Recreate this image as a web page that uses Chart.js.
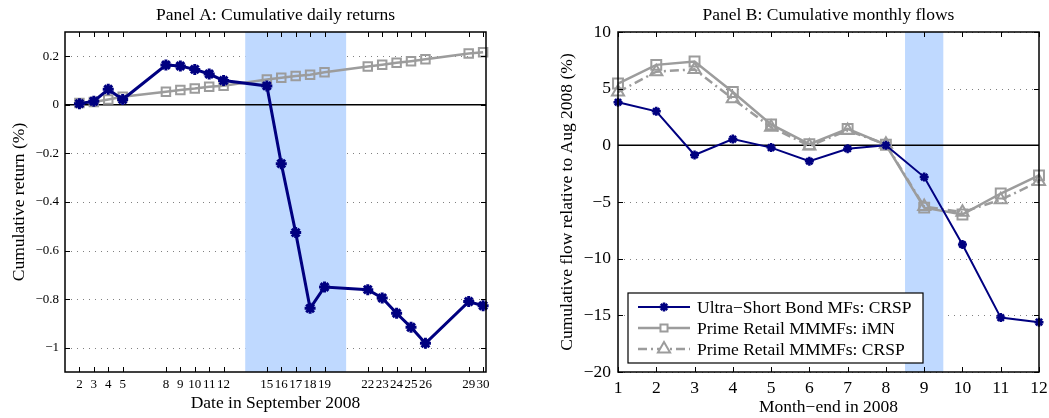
<!DOCTYPE html>
<html lang="en">
<head>
    <meta charset="UTF-8">
    <title>Cumulative daily returns and monthly flows</title>
    <script src="https://cdn.jsdelivr.net/npm/chart.js@4.4.1/dist/chart.umd.min.js"></script>
    <style>
        html, body { margin: 0; padding: 0; background: #fff; }
        .panel { position: absolute; top: 0; }
        #panelA { left: 0; }
        #panelB { left: 530px; }
    </style>
</head>
<body>
    <div class="panel" id="panelA"><canvas id="chartA" width="530" height="418"></canvas></div>
    <div class="panel" id="panelB"><canvas id="chartB" width="519" height="418"></canvas></div>
    <script>
        // Panel A: cumulative daily returns, September 2008 (%)
        const daysA = [2, 3, 4, 5, 8, 9, 10, 11, 12, 15, 16, 17, 18, 19, 22, 23, 24, 25, 26, 29, 30];
        const ultraDaily = [0.005, 0.015, 0.064, 0.022, 0.164, 0.160, 0.146, 0.127, 0.100, 0.078, -0.242,
            -0.526, -0.838, -0.750, -0.761, -0.795, -0.858, -0.916, -0.982, -0.810, -0.827];
        const primeDaily = [0.008, 0.012, 0.022, 0.033, 0.054, 0.061, 0.067, 0.075, 0.079, 0.104, 0.112,
            0.119, 0.124, 0.134, 0.158, 0.165, 0.173, 0.180, 0.188, 0.211, 0.217];
        const yTicksA = [-1, -0.8, -0.6, -0.4, -0.2, 0, 0.2];
        const shadeA = [13.5, 20.5];

        // Panel B: cumulative monthly flows relative to Aug 2008 (%)
        const monthsB = [1, 2, 3, 4, 5, 6, 7, 8, 9, 10, 11, 12];
        const ultraFlow = [3.8, 3.0, -0.85, 0.55, -0.2, -1.4, -0.3, 0, -2.8, -8.75, -15.2, -15.6];
        const primeIMN = [5.45, 7.1, 7.4, 4.7, 1.85, 0.1, 1.45, 0.05, -5.5, -6.1, -4.25, -2.65];
        const primeCRSP = [4.7, 6.5, 6.7, 4.1, 1.6, -0.05, 1.3, 0.1, -5.4, -5.9, -4.8, -3.2];
        const yTicksB = [-20, -15, -10, -5, 0, 5, 10];
        const shadeB = [8.5, 9.5];

        const legendB = ['Ultra\u2212Short Bond MFs: CRSP', 'Prime Retail MMMFs: iMN', 'Prime Retail MMMFs: CRSP'];

        const NAVY = '#000080';
        const GREY = '#9c9c9c';
        const SHADE = '#bfd9ff';
        const FONT = '"Liberation Serif", "DejaVu Serif", serif';

        const pts = (xs, ys) => xs.map((x, i) => ({ x: x, y: ys[i] }));
        const minus = v => String(v).replace('-', '\u2212');

        // grid, shading, zero line, box, inward ticks (MATLAB look)
        const decor = {
            id: 'decor',
            beforeDatasetsDraw(chart, args, opts) {
                const { ctx, chartArea: a, scales: { x, y } } = chart;
                ctx.save();
                ctx.strokeStyle = '#808080';
                ctx.lineWidth = 1;
                ctx.setLineDash([1, 5]);
                opts.yTicks.forEach(v => {
                    if (v === 0) return;
                    const py = Math.round(y.getPixelForValue(v)) + 0.5;
                    ctx.beginPath();
                    ctx.moveTo(a.left, py);
                    ctx.lineTo(a.right, py);
                    ctx.stroke();
                });
                ctx.setLineDash([]);
                const x0 = x.getPixelForValue(opts.shade[0]);
                const x1 = x.getPixelForValue(opts.shade[1]);
                ctx.fillStyle = SHADE;
                ctx.fillRect(x0, a.top, x1 - x0, a.bottom - a.top);
                const p0 = y.getPixelForValue(0);
                ctx.strokeStyle = '#000';
                ctx.lineWidth = 1.5;
                ctx.beginPath();
                ctx.moveTo(a.left, p0);
                ctx.lineTo(a.right, p0);
                ctx.stroke();
                ctx.restore();
            },
            afterDraw(chart, args, opts) {
                const { ctx, chartArea: a, scales: { x, y } } = chart;
                ctx.save();
                ctx.strokeStyle = '#000';
                ctx.lineWidth = 1.5;
                ctx.strokeRect(a.left, a.top, a.right - a.left, a.bottom - a.top);
                ctx.lineWidth = 1;
                const t = opts.tickLen;
                ctx.beginPath();
                opts.xTicks.forEach(v => {
                    const px = Math.round(x.getPixelForValue(v)) + 0.5;
                    ctx.moveTo(px, a.bottom); ctx.lineTo(px, a.bottom - t);
                    ctx.moveTo(px, a.top); ctx.lineTo(px, a.top + t);
                });
                opts.yTicks.forEach(v => {
                    const py = Math.round(y.getPixelForValue(v)) + 0.5;
                    ctx.moveTo(a.left, py); ctx.lineTo(a.left + t, py);
                    ctx.moveTo(a.right, py); ctx.lineTo(a.right - t, py);
                });
                ctx.stroke();

                if (opts.legend) {
                    const lg = opts.legend;
                    const bx = a.left + 10, bw = 295, bh = 70;
                    const by = a.bottom - 9 - bh;
                    ctx.fillStyle = '#fff';
                    ctx.fillRect(bx, by, bw, bh);
                    ctx.strokeStyle = '#000';
                    ctx.lineWidth = 1.2;
                    ctx.strokeRect(bx, by, bw, bh);
                    ctx.font = '17.5px ' + FONT;
                    ctx.textBaseline = 'middle';
                    chart.data.datasets.forEach((ds, i) => {
                        const ry = by + 14 + i * 21;
                        const lx0 = bx + 10, lx1 = bx + 62;
                        ctx.strokeStyle = ds.borderColor;
                        ctx.lineWidth = ds.borderWidth;
                        ctx.setLineDash(ds.borderDash || []);
                        ctx.beginPath();
                        ctx.moveTo(lx0, ry);
                        ctx.lineTo(lx1, ry);
                        ctx.stroke();
                        ctx.setLineDash([]);
                        ctx.lineWidth = ds.pointBorderWidth;
                        ctx.fillStyle = '#fff';
                        Chart.helpers.drawPoint(ctx, {
                            pointStyle: ds.pointStyle,
                            radius: ds.legendRadius,
                            borderWidth: ds.pointBorderWidth,
                            rotation: 0
                        }, (lx0 + lx1) / 2, ry);
                        ctx.fillStyle = '#000';
                        ctx.fillText(lg[i], bx + 69, ry + 1);
                    });
                }
                ctx.restore();
            }
        };

        function xScale(min, max, ticks, fontSize, pad, titleText, titlePad) {
            return {
                type: 'linear',
                min: min,
                max: max,
                grid: { display: false, drawTicks: false },
                border: { display: false },
                afterBuildTicks: s => { s.ticks = ticks.map(v => ({ value: v })); },
                afterFit: s => { s.height = 46; s.paddingLeft = 0; s.paddingRight = 0; },
                ticks: {
                    autoSkip: false,
                    maxRotation: 0,
                    padding: pad,
                    color: '#000',
                    font: { family: FONT, size: fontSize },
                    callback: v => minus(v)
                },
                title: {
                    display: true,
                    text: titleText,
                    color: '#000',
                    font: { family: FONT, size: 17.5 },
                    padding: { top: 0, bottom: titlePad }
                }
            };
        }

        function yScale(min, max, ticks, fontSize, pad, width, titleText, titlePad) {
            return {
                type: 'linear',
                min: min,
                max: max,
                grid: { display: false, drawTicks: false },
                border: { display: false },
                afterBuildTicks: s => { s.ticks = ticks.map(v => ({ value: v })); },
                afterFit: s => { s.width = width; s.paddingTop = 0; s.paddingBottom = 0; },
                ticks: {
                    padding: pad,
                    color: '#000',
                    font: { family: FONT, size: fontSize },
                    callback: v => minus(v)
                },
                title: {
                    display: true,
                    text: titleText,
                    color: '#000',
                    font: { family: FONT, size: 17.5 },
                    padding: { top: titlePad, bottom: 0 }
                }
            };
        }

        function titleOpts(text) {
            return {
                display: true,
                text: text,
                fullSize: false,
                color: '#000',
                font: { family: FONT, size: 17.5, weight: 'normal' },
                padding: { top: 5, bottom: 6 }
            };
        }

        // Panel A
        new Chart(document.getElementById('chartA'), {
            type: 'line',
            data: {
                datasets: [{
                    label: 'Ultra-Short Bond MFs',
                    data: pts(daysA, ultraDaily),
                    borderColor: NAVY,
                    borderWidth: 3,
                    pointStyle: 'star',
                    pointRadius: 5.5,
                    pointBorderWidth: 3,
                    pointBorderColor: NAVY,
                    pointBackgroundColor: NAVY,
                    tension: 0,
                    clip: false
                }, {
                    label: 'Prime Retail MMMFs',
                    data: pts(daysA, primeDaily),
                    borderColor: GREY,
                    borderWidth: 2.5,
                    pointStyle: 'rect',
                    pointRadius: 6,
                    pointBorderWidth: 2,
                    pointBorderColor: GREY,
                    pointBackgroundColor: 'rgba(0,0,0,0)',
                    tension: 0,
                    clip: false
                }]
            },
            options: {
                responsive: false,
                animation: false,
                layout: { padding: { left: 0, right: 44, top: 0, bottom: 0 } },
                scales: {
                    x: xScale(1, 30.2, daysA, 13, 5, 'Date in September 2008', 4.5),
                    y: yScale(-1.1, 0.3, yTicksA, 13, 6, 65, 'Cumulative return (%)', 9)
                },
                plugins: {
                    legend: { display: false },
                    tooltip: { enabled: false },
                    title: titleOpts('Panel A: Cumulative daily returns'),
                    decor: { yTicks: yTicksA, xTicks: daysA, shade: shadeA, tickLen: 5 }
                }
            },
            plugins: [decor]
        });

        // Panel B
        new Chart(document.getElementById('chartB'), {
            type: 'line',
            data: {
                datasets: [{
                    label: legendB[0],
                    data: pts(monthsB, ultraFlow),
                    borderColor: NAVY,
                    borderWidth: 2,
                    pointStyle: 'star',
                    pointRadius: 4.5,
                    legendRadius: 4.5,
                    pointBorderWidth: 2.5,
                    pointBorderColor: NAVY,
                    pointBackgroundColor: NAVY,
                    tension: 0,
                    clip: false
                }, {
                    label: legendB[1],
                    data: pts(monthsB, primeIMN),
                    borderColor: GREY,
                    borderWidth: 2.5,
                    pointStyle: 'rect',
                    pointRadius: 7,
                    legendRadius: 5,
                    pointBorderWidth: 2,
                    pointBorderColor: GREY,
                    pointBackgroundColor: 'rgba(0,0,0,0)',
                    tension: 0,
                    clip: false
                }, {
                    label: legendB[2],
                    data: pts(monthsB, primeCRSP),
                    borderColor: GREY,
                    borderWidth: 2.5,
                    borderDash: [9, 4, 2, 4],
                    pointStyle: 'triangle',
                    pointRadius: 7,
                    legendRadius: 7,
                    pointBorderWidth: 2,
                    pointBorderColor: GREY,
                    pointBackgroundColor: 'rgba(0,0,0,0)',
                    tension: 0,
                    clip: false
                }]
            },
            options: {
                responsive: false,
                animation: false,
                layout: { padding: { left: 0, right: 10, top: 0, bottom: 0 } },
                scales: {
                    x: xScale(1, 12, monthsB, 17.5, 6, 'Month\u2212end in 2008', 0.5),
                    y: yScale(-20, 10, yTicksB, 17.5, 7, 88, 'Cumulative flow relative to Aug 2008 (%)', 26.5)
                },
                plugins: {
                    legend: { display: false },
                    tooltip: { enabled: false },
                    title: titleOpts('Panel B: Cumulative monthly flows'),
                    decor: { yTicks: yTicksB, xTicks: monthsB, shade: shadeB, tickLen: 5, legend: legendB }
                }
            },
            plugins: [decor]
        });
    </script>
</body>
</html>
